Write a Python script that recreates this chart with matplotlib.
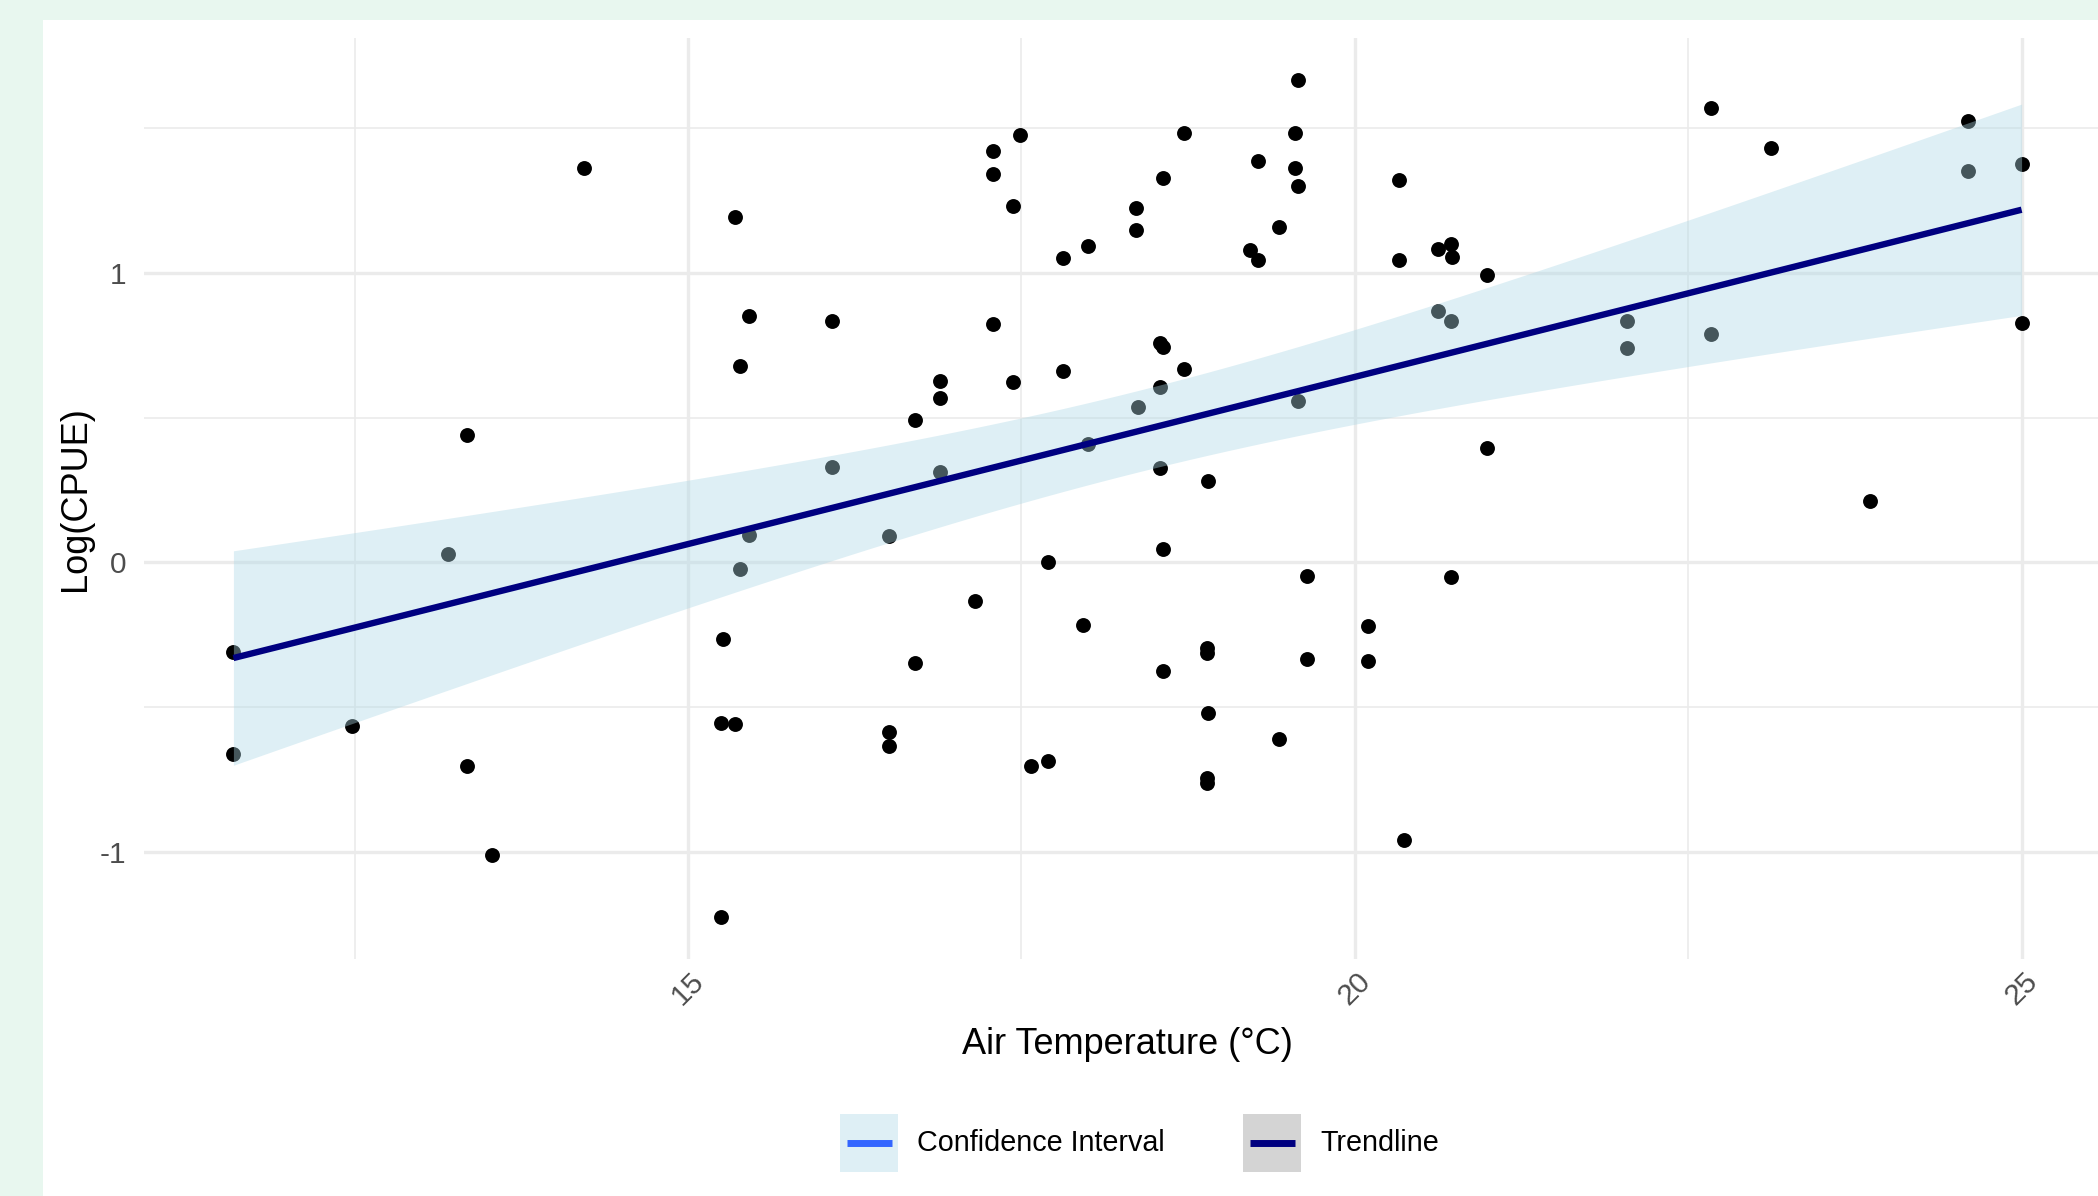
import numpy as np
import matplotlib
matplotlib.use('Agg')
import matplotlib.pyplot as plt
from matplotlib.patches import Rectangle
from matplotlib.lines import Line2D

plt.rcParams['font.family'] = ['Liberation Sans', 'DejaVu Sans']

# data
air_temp = [14.22, 15.35, 15.46, 15.39, 13.34, 11.59, 11.59, 12.48, 13.20, 13.34,
            13.53, 15.46, 15.39, 15.26, 15.25, 15.35, 15.25, 17.49, 17.29, 17.29,
            17.44, 18.72, 18.56, 18.36, 18.36, 18.00, 17.81, 19.57, 19.55, 19.27,
            19.55, 19.57, 19.43, 19.21, 19.27, 20.33, 20.33, 16.08, 17.29, 18.54,
            18.56, 18.72, 17.81, 16.89, 17.44, 16.89, 16.70, 18.54, 18.37, 19.57,
            18.00, 16.08, 16.89, 18.54, 18.90, 16.51, 17.70, 18.56, 17.15, 17.96,
            19.64, 16.70, 18.56, 18.89, 18.89, 19.64, 20.10, 20.10, 18.90, 19.43,
            16.51, 16.51, 17.57, 17.70, 18.89, 18.89, 20.37, 20.62, 20.72, 20.73,
            20.99, 20.62, 20.72, 22.04, 22.04, 22.67, 22.67, 23.12, 24.60, 24.60,
            25.00, 25.00, 20.99, 23.86, 20.72]
log_cpue = [1.362, 1.193, 0.851, 0.680, 0.440, -0.311, -0.661, -0.566, 0.029, -0.702,
            -1.010, 0.094, -0.022, -0.263, -0.554, -0.559, -1.226, 1.478, 1.423, 1.344,
            1.232, 1.485, 1.329, 1.226, 1.149, 1.093, 1.051, 1.668, 1.484, 1.387,
            1.364, 1.300, 1.159, 1.080, 1.044, 1.321, 1.046, 0.834, 0.824, 0.760,
            0.745, 0.667, 0.661, 0.628, 0.624, 0.567, 0.491, 0.605, 0.537, 0.559,
            0.410, 0.331, 0.313, 0.327, 0.282, 0.092, 0.002, 0.046, -0.132, -0.217,
            -0.047, -0.348, -0.376, -0.296, -0.312, -0.334, -0.220, -0.341, -0.520, -0.609,
            -0.585, -0.636, -0.705, -0.688, -0.745, -0.763, -0.961, 1.085, 1.099, 1.056,
            0.992, 0.869, 0.834, 0.834, 0.742, 0.790, 1.571, 1.433, 1.525, 1.353,
            1.376, 0.826, 0.397, 0.212, -0.052]

x_ticks = [15, 20, 25]
y_ticks = [-1, 0, 1]
legend_labels = ['Confidence Interval', 'Trendline']

# linear fit + 95% confidence band (like geom_smooth(method = "lm"))
x = np.array(air_temp)
y = np.array(log_cpue)
n = len(x)
slope, intercept = np.polyfit(x, y, 1)
xs = np.linspace(x.min(), x.max(), 100)
fit = intercept + slope * xs
resid = y - (intercept + slope * x)
s = np.sqrt(np.sum(resid ** 2) / (n - 2))
sxx = np.sum((x - x.mean()) ** 2)
se = s * np.sqrt(1 / n + (xs - x.mean()) ** 2 / sxx)
t_crit = 1.986  # t(0.975, df = n - 2)
lo = fit - t_crit * se
hi = fit + t_crit * se

W, H = 2098, 1196


def fx(px):
    return px / W


def fy(py):
    return 1 - py / H


fig = plt.figure(figsize=(W / 100, H / 100), dpi=100, facecolor='#E8F7EF')
fig.patches.append(Rectangle((fx(43), 0), 1 - fx(43), fy(20), transform=fig.transFigure,
                             facecolor='white', edgecolor='none', zorder=-5))

ax = fig.add_axes([fx(144), fy(959), (2111 - 144) / W, (959 - 38) / H])
ax.set_facecolor('white')

ax.scatter(x, y, s=115, color='black', linewidths=0, zorder=2)
ax.fill_between(xs, lo, hi, color='lightblue', alpha=0.4, linewidth=0, zorder=3)
ax.plot(xs, fit, color='navy', linewidth=4.6, zorder=4, solid_capstyle='butt')

xr = x.max() - x.min()
yr = y.max() - y.min()
ax.set_xlim(x.min() - 0.05 * xr, x.max() + 0.05 * xr)
ax.set_ylim(y.min() - 0.05 * yr, y.max() + 0.05 * yr)

ax.set_xticks(x_ticks)
ax.set_xticklabels([str(t) for t in x_ticks], rotation=45, ha='center', va='top')
ax.set_yticks(y_ticks)
ax.set_yticklabels([str(t) for t in y_ticks])
ax.set_xticks([12.5, 17.5, 22.5], minor=True)
ax.set_yticks([-0.5, 0.5, 1.5], minor=True)
ax.tick_params(which='both', length=0, labelcolor='#4D4D4D', labelsize=21.5)
ax.tick_params(axis='x', pad=6)
ax.tick_params(axis='y', pad=13)

ax.grid(which='major', color='#EBEBEB', linewidth=2.4)
ax.grid(which='minor', color='#EBEBEB', linewidth=1.2)
ax.set_axisbelow(True)
for sp in ax.spines.values():
    sp.set_visible(False)

ax.set_xlabel('Air Temperature (°C)', fontsize=26, color='black')
ax.xaxis.set_label_coords(0.5, -0.0925)
ax.xaxis.label.set_va('center')
ax.set_ylabel('Log(CPUE)', fontsize=26, color='black')
ax.yaxis.set_label_coords(-0.0346, 0.5)
ax.yaxis.label.set_va('center')

# legend drawn by hand: shaded key box with a line across it
keys = [(840, '#DEEFF5', '#3366FF', 917), (1243, '#D4D4D4', 'navy', 1320)]
for (kx, bg, lc, tx), lab in zip(keys, legend_labels):
    fig.add_artist(Rectangle((fx(kx), fy(1172)), 58 / W, 58 / H, transform=fig.transFigure,
                             facecolor=bg, edgecolor='none'))
    fig.add_artist(Line2D([fx(kx + 7), fx(kx + 52)], [fy(1143), fy(1143)],
                          transform=fig.transFigure, color=lc, linewidth=5,
                          solid_capstyle='butt'))
    fig.text(fx(tx), fy(1143), lab, ha='left', va='center', fontsize=20.7, color='black')

fig.savefig('out.png', dpi=100, facecolor=fig.get_facecolor())
